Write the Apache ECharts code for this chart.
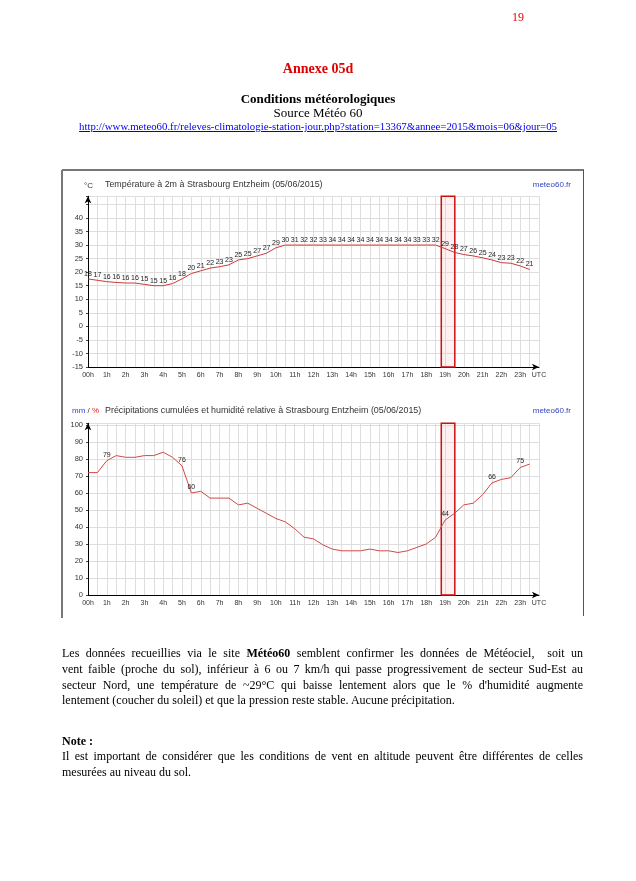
<!DOCTYPE html>
<html>
<head>
<meta charset="utf-8">
<script src="https://cdn.jsdelivr.net/npm/echarts/dist/echarts.min.js"></script>
<style>
html,body{margin:0;padding:0;background:#fff;}
#page{position:relative;width:636px;height:881px;overflow:hidden;font-family:"Liberation Serif","Times New Roman",serif;color:#000;}
#chart{position:absolute;left:0;top:0;width:636px;height:881px;}
.t{position:absolute;white-space:nowrap;line-height:1;}
.c{left:0;width:636px;text-align:center;}
.ln{position:absolute;left:62px;width:521px;font-size:12px;line-height:16px;white-space:nowrap;}
.j{text-align:justify;text-align-last:justify;white-space:normal;}
</style>
</head>
<body>
<div id="page">
  <div id="chart"></div>
  <div class="t" style="left:512px;top:11px;font-size:12px;color:#e00000;">19</div>
  <div class="t c" style="top:62px;font-size:14px;font-weight:bold;color:#e00000;">Annexe 05d</div>
  <div class="t c" style="top:92px;font-size:13px;font-weight:bold;">Conditions météorologiques</div>
  <div class="t c" style="top:106px;font-size:13px;">Source Météo 60</div>
  <div class="t c" style="top:121px;font-size:10.8px;color:#0000ee;text-decoration:underline;">http://www.meteo60.fr/releves-climatologie-station-jour.php?station=13367&amp;annee=2015&amp;mois=06&amp;jour=05</div>

  <div class="ln j" style="top:645px;">Les données recueillies via le site <b>Météo60</b> semblent confirmer les données de Météociel, &nbsp;soit un</div>
  <div class="ln j" style="top:661px;">vent faible (proche du sol), inférieur à 6 ou 7 km/h qui passe progressivement de secteur Sud-Est au</div>
  <div class="ln j" style="top:677px;">secteur Nord, une température de ~29°C qui baisse lentement alors que le % d'humidité augmente</div>
  <div class="ln" style="top:692px;">lentement (coucher du soleil) et que la pression reste stable. Aucune précipitation.</div>

  <div class="ln" style="top:733px;font-weight:bold;">Note :</div>
  <div class="ln j" style="top:748px;">Il est important de considérer que les conditions de vent en altitude peuvent être différentes de celles</div>
  <div class="ln" style="top:764px;">mesurées au niveau du sol.</div>
</div>
<script>
// ---- data (half-hourly, UTC) ----
const times = [0,0.5,1,1.5,2,2.5,3,3.5,4,4.5,5,5.5,6,6.5,7,7.5,8,8.5,9,9.5,10,10.5,11,11.5,12,12.5,13,13.5,14,14.5,15,15.5,16,16.5,17,17.5,18,18.5,19,19.5,20,20.5,21,21.5,22,22.5,23,23.5];
// temperature readings written above the curve (°C)
const tempReadings = [18,17,16,16,16,16,15,15,15,16,18,20,21,22,23,23,25,25,27,27,29,30,31,32,32,33,34,34,34,34,34,34,34,34,34,33,33,32,29,28,27,26,25,24,23,23,22,21];
// temperature curve as drawn in the picture (°C)
const tempCurve = [17.5,17,16.5,16.2,16,16,15.5,15,15,15.8,17.5,19.5,20.5,21.5,22,22.7,24.5,25,26,27,29,30,30,30,30,30,30,30,30,30,30,30,30,30,30,30,30,30,28.7,27.3,26.5,26,25.3,24.5,23.5,23.3,22.3,21];
// relative humidity (%)
const humidity = [72,72,79,82,81,81,82,82,84,81,76,60,61,57,57,57,53,54,51,48,45,43,39,34,33,29.5,27,26,26,26,27,26,26,25,26,28,30,34,44,48,53,54,59,66,68,69,75,77];
const humidityLabelled = [2,10,11,38,43,46];
const hourLabels = ['00h','1h','2h','3h','4h','5h','6h','7h','8h','9h','10h','11h','12h','13h','14h','15h','16h','17h','18h','19h','20h','21h','22h','23h','UTC'];
const highlightHours = [18.8, 19.52];

const SANS = '"Liberation Sans", Arial, sans-serif';
const chart = echarts.init(document.getElementById('chart'));

function xAxis(gi){
  return {
    type:'value', gridIndex:gi, min:0, max:24, interval:0.5,
    axisLine:{show:true, onZero:false, lineStyle:{color:'#000',width:1}, symbol:['none','arrow'], symbolSize:[5,7]},
    axisTick:{show:false},
    splitLine:{show:true, lineStyle:{color:'#dedede',width:1}},
    axisLabel:{show:true, fontSize:7, color:'#333', fontFamily:SANS, margin:5,
      formatter:function(v){ return Number.isInteger(v) ? hourLabels[v] : ''; }}
  };
}
function yAxis(gi,min,max,interval,top){
  return {
    type:'value', gridIndex:gi, min:min, max:max, interval:interval,
    axisLine:{show:true, onZero:false, lineStyle:{color:'#000',width:1}, symbol:['none','arrow'], symbolSize:[5,7]},
    axisTick:{show:true, length:2, lineStyle:{color:'#444'}},
    splitLine:{show:true, lineStyle:{color:'#dedede',width:1}},
    axisLabel:{fontSize:7.5, color:'#333', fontFamily:SANS, margin:5,
      formatter:function(v){ return v<=top ? String(v) : ''; }}
  };
}
const areaStyle = {color:'rgba(255,190,190,0.22)', borderColor:'#cc1111', borderWidth:1.5};

chart.setOption({
  animation:false,
  backgroundColor:'transparent',
  grid:[
    {left:88, width:451, top:196.3, height:170.7},
    {left:88, width:451, top:423.3, height:171.7}
  ],
  xAxis:[xAxis(0), xAxis(1)],
  yAxis:[yAxis(0,-15,48,5,40), yAxis(1,0,101,10,100)],
  series:[
    {
      type:'line', xAxisIndex:0, yAxisIndex:0,
      data: times.map(function(t,i){ return [t, tempCurve[i]]; }),
      symbol:'circle', symbolSize:1, itemStyle:{color:'rgba(0,0,0,0)'},
      lineStyle:{color:'#cc3a3a', width:1},
      label:{show:true, position:'top', distance:1, fontSize:7, color:'#222', fontFamily:SANS,
        formatter:function(p){ return String(tempReadings[p.dataIndex]); }},
      markArea:{silent:true, itemStyle:areaStyle,
        data:[[{xAxis:highlightHours[0], yAxis:-15},{xAxis:highlightHours[1], yAxis:48}]]}
    },
    {
      type:'line', xAxisIndex:1, yAxisIndex:1,
      data: times.map(function(t,i){ return {value:[t, humidity[i]], label:{show: humidityLabelled.indexOf(i) >= 0}}; }),
      symbol:'circle', symbolSize:1, itemStyle:{color:'rgba(0,0,0,0)'},
      lineStyle:{color:'#d04848', width:1},
      label:{show:false, position:'top', distance:2, fontSize:7, color:'#222', fontFamily:SANS},
      markArea:{silent:true, itemStyle:areaStyle,
        data:[[{xAxis:highlightHours[0], yAxis:0},{xAxis:highlightHours[1], yAxis:101}]]}
    }
  ],
  graphic:[
    {type:'line', shape:{x1:62,y1:170,x2:584,y2:170}, style:{stroke:'#777',lineWidth:2}},
    {type:'line', shape:{x1:62,y1:170,x2:62,y2:618}, style:{stroke:'#777',lineWidth:2}},
    {type:'line', shape:{x1:583.5,y1:170,x2:583.5,y2:616}, style:{stroke:'#555',lineWidth:1}},
    {type:'text', left:84, top:182, style:{text:'°C', fontSize:8, fill:'#333', fontFamily:SANS}},
    {type:'text', left:105, top:180, style:{text:'Température à 2m à Strasbourg Entzheim (05/06/2015)', fontSize:8.9, fill:'#333', fontFamily:SANS}},
    {type:'text', right:65, top:181, style:{text:'meteo60.fr', fontSize:8, fill:'#3344bb', fontFamily:SANS}},
    {type:'text', left:72, top:407, style:{rich:{a:{fill:'#3344cc',fontSize:8,fontFamily:SANS},b:{fill:'#333',fontSize:8,fontFamily:SANS},c:{fill:'#dd2222',fontSize:8,fontFamily:SANS}}, text:'{a|mm}{b| / }{c|%}'}},
    {type:'text', left:105, top:406, style:{text:'Précipitations cumulées et humidité relative à Strasbourg Entzheim (05/06/2015)', fontSize:8.9, fill:'#333', fontFamily:SANS}},
    {type:'text', right:65, top:407, style:{text:'meteo60.fr', fontSize:8, fill:'#3344bb', fontFamily:SANS}}
  ]
});
</script>
</body>
</html>
